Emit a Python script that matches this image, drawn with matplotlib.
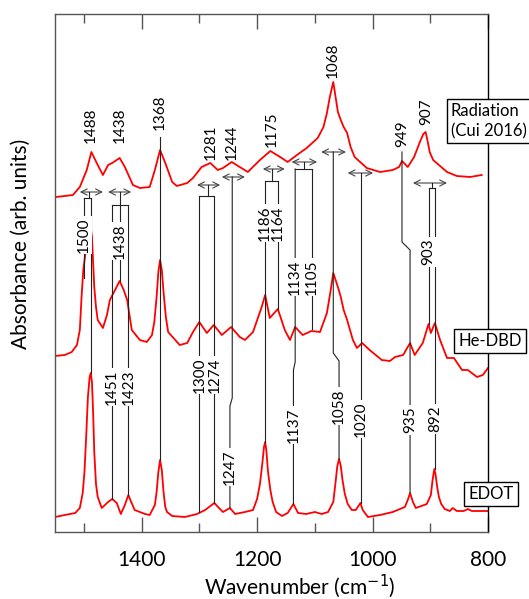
import matplotlib.pyplot as plt

plt.rcParams['font.family'] = ['Lato', 'DejaVu Sans']

# ---- spectra (wavenumber in cm-1, absorbance in arb. units, stacked offsets) ----
rad_wn = [1548, 1519, 1507, 1495, 1487, 1476, 1467, 1458, 1451, 1438, 1429, 1415,
          1403, 1386, 1377, 1368, 1359, 1347, 1339, 1321, 1311, 1296, 1281, 1268,
          1259, 1244, 1230, 1216, 1195, 1177, 1160, 1147, 1131, 1114, 1095, 1085,
          1079, 1074, 1068, 1064, 1060, 1055, 1050, 1044, 1038, 1031, 1010, 987,
          965, 954, 949, 939, 928, 918, 912, 908, 905, 901, 895, 889, 871, 854,
          831, 811]
rad_abs = [335, 337, 345, 362, 380, 367, 357, 367, 369, 374, 365, 347,
           344, 345, 362, 382, 369, 350, 346, 349, 354, 365, 369, 362,
           364, 370, 365, 360, 372, 381, 375, 370, 377, 384, 394, 405,
           419, 435, 450, 435, 420, 412, 405, 399, 385, 375, 364, 360,
           362, 365, 371, 365, 375, 390, 398, 400, 392, 380, 372, 369, 360, 356,
           355, 357]

dbd_wn = [1550, 1533, 1521, 1512, 1507, 1504, 1501, 1497, 1493, 1490, 1488, 1486,
          1484, 1482, 1479, 1476, 1467, 1460, 1455, 1446, 1438, 1431, 1425, 1417,
          1403, 1391, 1382, 1378, 1374, 1371, 1368, 1365, 1362, 1358, 1354, 1334,
          1321, 1311, 1300, 1287, 1275, 1261, 1245, 1230, 1221, 1207, 1192, 1186,
          1178, 1164, 1152, 1143, 1134, 1121, 1106, 1091, 1079, 1073, 1068, 1064,
          1060, 1055, 1050, 1044, 1034, 1027, 1018, 1005, 984, 970, 961, 947, 935,
          927, 913, 903, 899, 892, 883, 871, 859, 845, 835, 819, 809, 800]
dbd_abs = [176, 177, 180, 187, 202, 235, 262, 280, 295, 303, 304, 295,
           270, 245, 225, 212, 204, 217, 232, 242, 251, 242, 232, 202,
           192, 190, 197, 210, 235, 260, 272, 262, 240, 215, 200, 187,
           189, 200, 210, 199, 207, 197, 205, 195, 192, 200, 225, 237,
           214, 223, 202, 192, 205, 197, 201, 200, 219, 240, 259, 252,
           245, 235, 222, 212, 192, 184, 189, 182, 172, 171, 175, 177, 189,
           177, 189, 208, 199, 209, 192, 174, 174, 162, 162, 155, 157, 164]

edot_wn = [1550, 1533, 1515, 1507, 1502, 1499, 1496, 1493, 1490, 1488, 1486, 1484,
           1482, 1479, 1476, 1469, 1458, 1451, 1443, 1436, 1429, 1423, 1418, 1412,
           1394, 1386, 1377, 1374, 1371, 1368, 1365, 1362, 1359, 1356, 1347, 1325,
           1304, 1290, 1274, 1266, 1259, 1247, 1238, 1221, 1207, 1200, 1195, 1191,
           1188, 1186, 1184, 1181, 1177, 1173, 1167, 1157, 1147, 1137, 1129, 1115,
           1100, 1088, 1077, 1068, 1064, 1061, 1058, 1055, 1052, 1048, 1043, 1036,
           1029, 1021, 1017, 1008, 987, 965, 944, 939, 935, 930, 925, 906, 899, 896,
           893, 891, 888, 885, 881, 875, 866, 861, 854, 842, 835, 828, 800]
edot_abs = [15, 17, 19, 24, 39, 60, 95, 135, 155, 159, 150, 120,
            80, 48, 35, 24, 30, 33, 29, 18, 27, 37, 30, 22,
            18, 17, 27, 40, 60, 72, 62, 40, 25, 20, 16, 15,
            18, 22, 29, 24, 20, 24, 18, 20, 22, 33, 48, 68,
            85, 90, 82, 60, 42, 30, 20, 16, 19, 28, 19, 18,
            20, 18, 20, 30, 50, 66, 73, 66, 52, 38, 28, 22,
            22, 29, 22, 15, 17, 20, 25, 32, 39, 30, 24, 28, 37, 52,
            63, 58, 45, 35, 28, 23, 21, 24, 21, 21, 23, 21, 21]

# top-spectrum peak labels (cm-1)
rad_peaks = ['1488', '1438', '1368', '1281', '1244', '1175', '1068', '949', '907']
rad_label_y = [407, 407, 420, 390, 390, 403, 472, 398, 420]

series_names = ['Radiation\n(Cui 2016)', 'He-DBD', 'EDOT']

fig = plt.figure(figsize=(5.29, 5.99), dpi=100)
ax = fig.add_axes([55 / 529, 67 / 599, 433 / 529, 518 / 599])

red = '#ff0000'
for wn, ab in [(rad_wn, rad_abs), (dbd_wn, dbd_abs), (edot_wn, edot_abs)]:
    ax.plot(wn, ab, color=red, lw=1.3, zorder=2, solid_joinstyle='round')

LC = '#222222'
AC = '#444444'


def label(wn, y, txt):
    ax.text(wn, y, txt, rotation=90, ha='center', va='center', fontsize=11,
            bbox=dict(fc='white', ec='none', pad=1.0), zorder=5)


def drop(wn, y0, y1, txt=None, ly=None, wn2=None, yk=None):
    # vertical connector, optionally with a small kink to a shifted position
    if wn2 is None:
        ax.plot([wn, wn], [y0, y1], color=LC, lw=0.8, zorder=3)
        wn2 = wn
    else:
        ax.plot([wn, wn, wn2, wn2], [y0, yk, yk - 8, y1], color=LC, lw=0.8, zorder=3)
    if txt:
        label(wn2, ly, txt)


def shift_arrow(w1, w2, y):
    ax.annotate('', xy=(w2, y), xytext=(w1, y),
                arrowprops=dict(arrowstyle='<->', color=AC, lw=0.8,
                                mutation_scale=11, shrinkA=0, shrinkB=0), zorder=3)


def bracket(stem, y_top, y_br, w1, w2):
    ax.plot([stem, stem], [y_top, y_br], color=LC, lw=0.8, zorder=3)
    ax.plot([w1, w2], [y_br, y_br], color=LC, lw=0.8, zorder=3)


# labels above the radiation spectrum
for p, y in zip(rad_peaks, rad_label_y):
    ax.text(float(p), y, p, rotation=90, ha='center', va='center', fontsize=11, zorder=5)

# 1488 -> 1500 / 1488
shift_arrow(1507, 1467, 340)
bracket(1491, 340, 334, 1500, 1488)
drop(1500, 334, 254, '1500', 297)
drop(1488, 334, 159)

# 1438 -> 1451 / 1438 / 1423
shift_arrow(1458, 1418, 340)
bracket(1438, 340, 327, 1451, 1423)
drop(1438, 327, 251, '1438', 291)
drop(1451, 327, 33, '1451', 145)
drop(1423, 327, 37, '1423', 145)

# 1368
drop(1368, 395, 72)

# 1281 -> 1300 / 1274
shift_arrow(1304, 1264, 347)
bracket(1285, 347, 336, 1300, 1274)
drop(1300, 336, 20, '1300', 157)
drop(1274, 336, 29, '1274', 157)

# 1244 -> 1247
shift_arrow(1261, 1221, 355)
drop(1243, 355, 24, '1247', 65, wn2=1247, yk=134)

# 1175 -> 1186 / 1164
shift_arrow(1190, 1152, 363)
bracket(1174, 363, 351, 1186, 1164)
drop(1186, 351, 90, '1186', 309)
drop(1164, 351, 223, '1164', 309)

# 1134 / 1105 -> 1137
shift_arrow(1140, 1096, 370)
bracket(1119, 370, 363, 1134, 1105)
drop(1134, 363, 28, None, None, wn2=1137, yk=170)
label(1134, 255, '1134')
label(1137, 107, '1137')
drop(1105, 363, 203, '1105', 255)

# 1068 -> 1058
shift_arrow(1089, 1046, 380)
drop(1068, 380, 73, '1058', 126, wn2=1058, yk=179)

# 1020
shift_arrow(1043, 999, 359)
drop(1020, 359, 29, '1020', 113)

# 949 -> 935
drop(949, 380, 39, '935', 112, wn2=935, yk=290)

# 907 -> 903 / 892
shift_arrow(930, 871, 349)
bracket(897, 349, 344, 903, 892)
drop(903, 344, 208, '903', 280)
drop(892, 344, 63, '892', 113)

# axes styling
ax.set_xlim(1550, 800)
ax.set_ylim(0, 518)
ax.set_xticks([1400, 1200, 1000, 800])
ax.set_xticks([1500, 1300, 1100, 900], minor=True)
ax.set_yticks([])
ax.tick_params(axis='x', which='both', direction='in', top=True, color='#555555',
               width=1.0, labelsize=15, pad=13)
ax.tick_params(axis='x', which='major', length=10.5)
ax.tick_params(axis='x', which='minor', length=6.5)
for side in ['left', 'top', 'bottom']:
    ax.spines[side].set_color('#555555')
    ax.spines[side].set_linewidth(1.0)
ax.spines['right'].set_color('black')
ax.spines['right'].set_linewidth(1.0)

fig.text(300 / 529, 1 - 594 / 599, 'Wavenumber (cm$^{-1}$)', ha='center', va='baseline',
         fontsize=15)
fig.text(21 / 529, 1 - 244 / 599, 'Absorbance (arb. units)', rotation=90,
         ha='center', va='center', fontsize=15)

# series name boxes
box = dict(boxstyle='square,pad=0.25', fc='white', ec='black', lw=1.0)
fig.text(451 / 529, 1 - 121 / 599, series_names[0], ha='left', va='center',
         fontsize=12, linespacing=1.3, bbox=box)
fig.text(490 / 529, 1 - 341 / 599, series_names[1], ha='center', va='center',
         fontsize=12, bbox=box)
fig.text(491 / 529, 1 - 494 / 599, series_names[2], ha='center', va='center',
         fontsize=12, bbox=box)

fig.savefig('out.png', dpi=100)
